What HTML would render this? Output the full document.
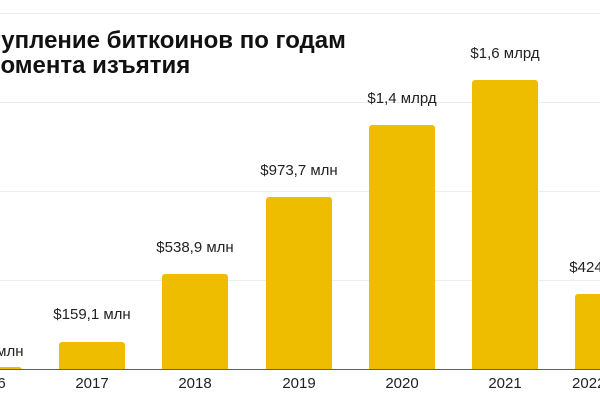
<!DOCTYPE html>
<html><head><meta charset="utf-8"><style>
html,body{margin:0;width:600px;height:400px;overflow:hidden}
body{background:#fff;position:relative;font-family:"Liberation Sans",sans-serif}
.g{position:absolute;left:0;width:600px;height:1px;background:#ececec}
.b{position:absolute;background:#efbd00;border-radius:3px 3px 0 0;width:66px}
.l{position:absolute;font-size:15px;color:#222;white-space:nowrap;transform:translateX(-50%)}
.t{position:absolute;font-weight:bold;font-size:24px;color:#111;white-space:nowrap}
</style></head><body>
<div class="g" style="top:13px"></div>
<div class="g" style="top:102px"></div>
<div class="g" style="top:191px"></div>
<div class="g" style="top:280px"></div>
<div class="t" style="left:-56px;top:27px">Поступление биткоинов по годам</div>
<div class="t" style="left:-37px;top:52px">с момента изъятия</div>
<div class="b" style="left:-44px;top:367px;height:3px"></div>
<div class="b" style="left:59px;top:342px;height:28px"></div>
<div class="b" style="left:162px;top:274px;height:96px"></div>
<div class="b" style="left:266px;top:197px;height:173px"></div>
<div class="b" style="left:369px;top:125px;height:245px"></div>
<div class="b" style="left:472px;top:80px;height:290px"></div>
<div class="b" style="left:575px;top:294px;height:76px"></div>
<div style="position:absolute;left:0;top:369px;width:600px;height:1px;background:#5b5b8a"></div>
<div class="l" style="left:-11px;top:343px">$13,9 млн</div>
<div class="l" style="left:92px;top:306px">$159,1 млн</div>
<div class="l" style="left:195px;top:239px">$538,9 млн</div>
<div class="l" style="left:299px;top:162px">$973,7 млн</div>
<div class="l" style="left:402px;top:90px">$1,4 млрд</div>
<div class="l" style="left:505px;top:45px">$1,6 млрд</div>
<div class="l" style="left:608px;top:259px">$424,4 млн</div>
<div class="l" style="left:-11px;top:375px">2016</div>
<div class="l" style="left:92px;top:375px">2017</div>
<div class="l" style="left:195px;top:375px">2018</div>
<div class="l" style="left:299px;top:375px">2019</div>
<div class="l" style="left:402px;top:375px">2020</div>
<div class="l" style="left:505px;top:375px">2021</div>
<div class="l" style="left:608px;top:375px">2022 (янв)</div>
</body></html>
